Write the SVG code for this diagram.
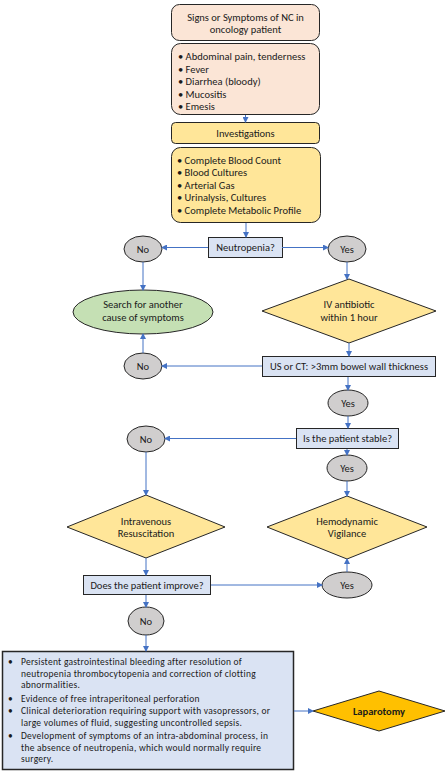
<svg xmlns="http://www.w3.org/2000/svg" width="446" height="772" viewBox="0 0 446 772">
<defs>
<marker id="ah" markerWidth="6" markerHeight="6" refX="5" refY="3" orient="auto" markerUnits="userSpaceOnUse">
<path d="M0,0 L6,3 L0,6 Z" fill="#4472C4"/>
</marker>
<style>
text{font-family:Calibri,Carlito,Lato,"Liberation Sans",sans-serif;fill:#1a1a1a;}
.c{text-anchor:middle;}
.t{font-size:10.5px;}
.s{font-size:9.5px;letter-spacing:0.25px;}
.peach{fill:#FBE5D6;stroke:#262626;stroke-width:1;}
.yel{fill:#FFE699;stroke:#262626;stroke-width:1;}
.blue{fill:#DAE3F3;stroke:#262626;stroke-width:1;}
.gray{fill:#D0CECE;stroke:#262626;stroke-width:1;}
.green{fill:#C5E0B4;stroke:#262626;stroke-width:1;}
.gold{fill:#FFC000;stroke:#262626;stroke-width:1;}
.con path{fill:none;stroke:#4472C4;stroke-width:1;marker-end:url(#ah);}
</style>
</defs>
<rect width="446" height="772" fill="#fff"/>

<g id="signs">
<rect class="peach" x="171.5" y="4.5" width="148" height="36" rx="8"/>
<text class="c t" x="245.5" y="21">Signs or Symptoms of NC in</text>
<text class="c t" x="245.5" y="33">oncology patient</text>
</g>
<g id="symptoms">
<rect class="peach" x="171.5" y="43.5" width="148" height="71" rx="9"/>
<text class="t" x="178" y="60">• Abdominal pain, tenderness</text>
<text class="t" x="178" y="72.5">• Fever</text>
<text class="t" x="178" y="85">• Diarrhea (bloody)</text>
<text class="t" x="178" y="97.5">• Mucositis</text>
<text class="t" x="178" y="110">• Emesis</text>
</g>
<g id="investigations">
<rect class="yel" x="171.5" y="122.5" width="148" height="21" rx="4"/>
<text class="c t" x="245.5" y="136.5">Investigations</text>
</g>
<g id="tests">
<rect class="yel" x="171.5" y="147.5" width="149" height="75" rx="9"/>
<text class="t" x="177" y="163.5">• Complete Blood Count</text>
<text class="t" x="177" y="176">• Blood Cultures</text>
<text class="t" x="177" y="188.5">• Arterial Gas</text>
<text class="t" x="177" y="201">• Urinalysis, Cultures</text>
<text class="t" x="177" y="213.5">• Complete Metabolic Profile</text>
</g>
<g id="neutropenia">
<rect class="blue" x="208.5" y="237.5" width="74" height="20"/>
<text class="c t" x="245.5" y="251">Neutropenia?</text>
</g>
<g id="no1">
<ellipse class="gray" cx="143" cy="249" rx="19" ry="13"/>
<text class="c t" x="143" y="252.5">No</text>
</g>
<g id="yes1">
<ellipse class="gray" cx="347" cy="249" rx="19" ry="13"/>
<text class="c t" x="347" y="252.5">Yes</text>
</g>
<g id="search">
<ellipse class="green" cx="143" cy="312" rx="70" ry="22"/>
<text class="c t" x="143" y="308">Search for another</text>
<text class="c t" x="143" y="320.5">cause of symptoms</text>
</g>
<g id="iv-antibiotic">
<polygon class="yel" points="349,279 436,311 349,343 262,311"/>
<text class="c t" x="349" y="307.5">IV antibiotic</text>
<text class="c t" x="349" y="320.5">within 1 hour</text>
</g>
<g id="no2">
<ellipse class="gray" cx="143" cy="366" rx="19" ry="13"/>
<text class="c t" x="143" y="369.5">No</text>
</g>
<g id="us-ct">
<rect class="blue" x="262.5" y="356.5" width="173" height="20"/>
<text class="c t" x="349" y="370">US or CT: &gt;3mm bowel wall thickness</text>
</g>
<g id="yes2">
<ellipse class="gray" cx="348" cy="403" rx="20" ry="13"/>
<text class="c t" x="348" y="406.5">Yes</text>
</g>
<g id="stable">
<rect class="blue" x="296.5" y="428.5" width="102" height="20"/>
<text class="c t" x="347.5" y="442">Is the patient stable?</text>
</g>
<g id="no3">
<ellipse class="gray" cx="146" cy="439" rx="19" ry="13"/>
<text class="c t" x="146" y="442.5">No</text>
</g>
<g id="yes3">
<ellipse class="gray" cx="347" cy="468" rx="20" ry="13"/>
<text class="c t" x="347" y="471.5">Yes</text>
</g>
<g id="resuscitation">
<polygon class="yel" points="146,495 225,527 146,558 67,527"/>
<text class="c t" x="146" y="525">Intravenous</text>
<text class="c t" x="146" y="537">Resuscitation</text>
</g>
<g id="vigilance">
<polygon class="yel" points="347,496 427,527 347,559 267,527"/>
<text class="c t" x="347" y="525">Hemodynamic</text>
<text class="c t" x="347" y="537">Vigilance</text>
</g>
<g id="improve">
<rect class="blue" x="83.5" y="575.5" width="127" height="19"/>
<text class="c t" x="147" y="588.5">Does the patient improve?</text>
</g>
<g id="yes4">
<ellipse class="gray" cx="347" cy="585" rx="25" ry="13"/>
<text class="c t" x="347" y="588.5">Yes</text>
</g>
<g id="no4">
<ellipse class="gray" cx="146" cy="621" rx="18" ry="14"/>
<text class="c t" x="146" y="624.5">No</text>
</g>
<g id="criteria">
<rect x="2.5" y="651.5" width="291" height="118" fill="#DAE3F3" stroke="#262626" stroke-width="1.5"/>
<text class="s" x="8" y="665">•</text>
<text class="s" x="21" y="665">Persistent gastrointestinal bleeding after resolution of</text>
<text class="s" x="21" y="676.5">neutropenia thrombocytopenia and correction of clotting</text>
<text class="s" x="21" y="688">abnormalities.</text>
<text class="s" x="8" y="702">•</text>
<text class="s" x="21" y="702">Evidence of free intraperitoneal perforation</text>
<text class="s" x="8" y="714">•</text>
<text class="s" x="21" y="714">Clinical deterioration requiring support with vasopressors, or</text>
<text class="s" x="21" y="725.5">large volumes of fluid, suggesting uncontrolled sepsis.</text>
<text class="s" x="8" y="739">•</text>
<text class="s" x="21" y="739">Development of symptoms of an intra-abdominal process, in</text>
<text class="s" x="21" y="750.5">the absence of neutropenia, which would normally require</text>
<text class="s" x="21" y="762">surgery.</text>
</g>
<g id="laparotomy">
<polygon class="gold" points="379,691 445,711 379,731 313,711"/>
<text class="c t" x="379" y="714.5" font-weight="bold">Laparotomy</text>
</g>

<g id="connectors" class="con">
<path d="M245.5,115 V122"/>
<path d="M246,223 V237"/>
<path d="M208,247.5 H162"/>
<path d="M282,247.5 H328"/>
<path d="M143,262 V290"/>
<path d="M347,262 V279"/>
<path d="M349,343 V356"/>
<path d="M262,366 H162"/>
<path d="M143,353 V334"/>
<path d="M348,377 V390"/>
<path d="M348,416 V428"/>
<path d="M296,438.5 H165"/>
<path d="M347,449 V455"/>
<path d="M146,452 V495"/>
<path d="M347,481 V496"/>
<path d="M146,558 V575"/>
<path d="M211,585 H322"/>
<path d="M347,572 V559"/>
<path d="M146,595 V607"/>
<path d="M146,635 V651"/>
<path d="M294,711 H313"/>
</g>
</svg>
